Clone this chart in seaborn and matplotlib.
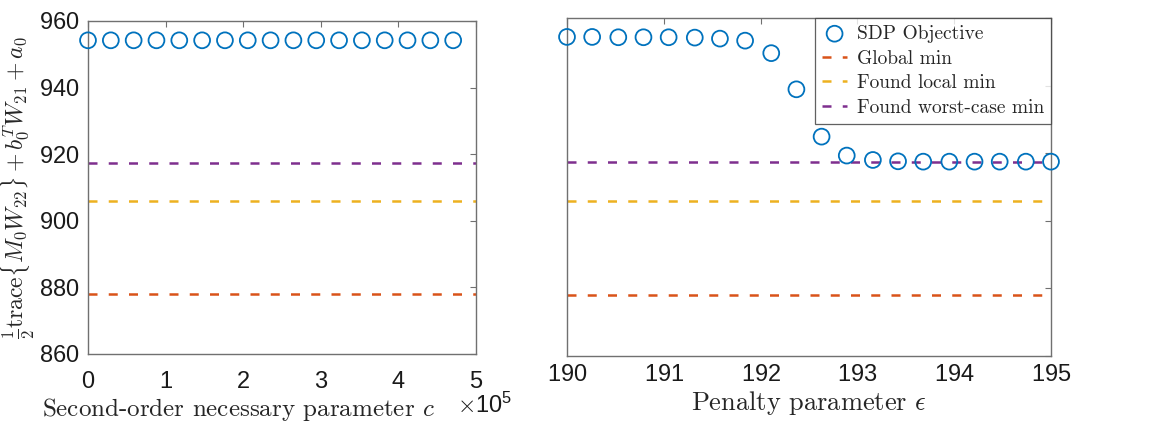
import numpy as np
import pandas as pd
import matplotlib
matplotlib.use("Agg")
import matplotlib.pyplot as plt
import seaborn as sns

# ---- data ----
c_vals = [0, 29412, 58824, 88235, 117647, 147059, 176471, 205882, 235294,
          264706, 294118, 323529, 352941, 382353, 411765, 441176, 470588]
sdp_left = [954.2, 954.2, 954.2, 954.2, 954.2, 954.2, 954.2, 954.2, 954.2,
            954.2, 954.2, 954.2, 954.2, 954.2, 954.2, 954.2, 954.2]

eps_vals = [190.00, 190.26, 190.53, 190.79, 191.05, 191.32, 191.58, 191.84,
            192.11, 192.37, 192.63, 192.89, 193.16, 193.42, 193.68, 193.95,
            194.21, 194.47, 194.74, 195.00]
sdp_right = [954.4, 954.4, 954.3, 954.3, 954.3, 954.2, 953.9, 953.3, 949.6,
             938.9, 924.9, 919.3, 918.0, 917.6, 917.5, 917.5, 917.5, 917.5,
             917.5, 917.5]

ref_names = ["Global min", "Found local min", "Found worst-case min"]
ref_values = [878.0, 905.8, 917.3]
ref_colors = ["#D95319", "#EDB120", "#7E2F8E"]
marker_color = "#0072BD"

y_ticks = [860, 880, 900, 920, 940, 960]
left_xticks = [0, 100000, 200000, 300000, 400000, 500000]
right_xticks = [190, 191, 192, 193, 194, 195]

# ---- style ----
sns.set_theme(style="white")
plt.rcParams["font.family"] = ["Liberation Sans", "DejaVu Sans"]
plt.rcParams["mathtext.fontset"] = "cm"
plt.rcParams["axes.formatter.use_mathtext"] = True
plt.rcParams["axes.unicode_minus"] = False

W, H = 1161, 428
fig = plt.figure(figsize=(W / 100, H / 100), dpi=100)
fig.patch.set_facecolor("white")

ax1 = fig.add_axes([88 / W, (H - 354) / H, 388 / W, 333 / H])
ax2 = fig.add_axes([567 / W, (H - 356) / H, 484 / W, 338 / H])

spine_col = "#707070"
serif = "cmr10"

def style_axes(ax, xpad):
    for s in ax.spines.values():
        s.set_visible(True)
        s.set_color(spine_col)
        s.set_linewidth(1.0)
    ax.tick_params(direction="in", length=4, width=0.8, color=spine_col,
                   top=True, right=True, labelsize=17, labelcolor="#1a1a1a")
    ax.tick_params(axis="x", pad=xpad)
    ax.tick_params(axis="y", pad=6)
    ax.set_ylim(860, 960)
    ax.set_yticks(y_ticks)
    ax.grid(False)

dash = (3.6, 4.5)
lw = 1.8

# left panel
df_left = pd.DataFrame({"x": c_vals, "y": sdp_left})
sns.scatterplot(data=df_left, x="x", y="y", ax=ax1, marker="o",
                facecolor="none", edgecolor=marker_color, linewidth=1.3,
                s=130, zorder=3, clip_on=False)
for v, col in zip(ref_values, ref_colors):
    ax1.axhline(v, color=col, lw=lw, dashes=dash, zorder=2)
style_axes(ax1, 12)
ax1.set_xlim(0, 500000)
ax1.set_xticks(left_xticks)
ax1.ticklabel_format(style="sci", axis="x", scilimits=(0, 0))
ax1.set_xlabel("Second-order necessary parameter $c$", family=serif,
               fontsize=18)
ax1.xaxis.set_label_coords(0.387, -0.125)
ax1.set_ylabel(r"$\frac{1}{2}\mathrm{trace}\{M_0W_{22}\}+b_0^TW_{21}+a_0$",
               fontsize=17)
ax1.yaxis.set_label_coords(-0.132, 0.5)

# right panel
df_right = pd.DataFrame({"x": eps_vals, "y": sdp_right})
sns.scatterplot(data=df_right, x="x", y="y", ax=ax2, marker="o",
                facecolor="none", edgecolor=marker_color, linewidth=1.3,
                s=130, zorder=3, label="SDP Objective", clip_on=False)
for v, col, name in zip(ref_values, ref_colors, ref_names):
    ax2.axhline(v, color=col, lw=lw, dashes=dash, zorder=2, label=name)
style_axes(ax2, 6)
ax2.set_xlim(190, 195)
ax2.set_xticks(right_xticks)
ax2.set_yticklabels([])
ax2.set_ylabel("")
ax2.set_xlabel(r"Penalty parameter $\epsilon$", family=serif, fontsize=19,
               labelpad=2)

leg = ax2.legend(loc="upper right", frameon=True, fancybox=False,
                 prop={"family": serif, "size": 14}, borderaxespad=0,
                 handlelength=1.3, handletextpad=0.5, borderpad=0.35,
                 labelspacing=0.35, edgecolor="#3a3a3a")
leg.get_frame().set_linewidth(0.9)

# place the x10^5 multiplier where the reference shows it
fig.canvas.draw()
off = ax1.xaxis.get_major_formatter().get_offset()
ax1.xaxis.get_offset_text().set_visible(False)
fig.text(457 / W, 1 - 405 / H, off, fontsize=17, ha="left", va="center",
         color="#1a1a1a")

fig.savefig("out.png", dpi=100, facecolor="white")
